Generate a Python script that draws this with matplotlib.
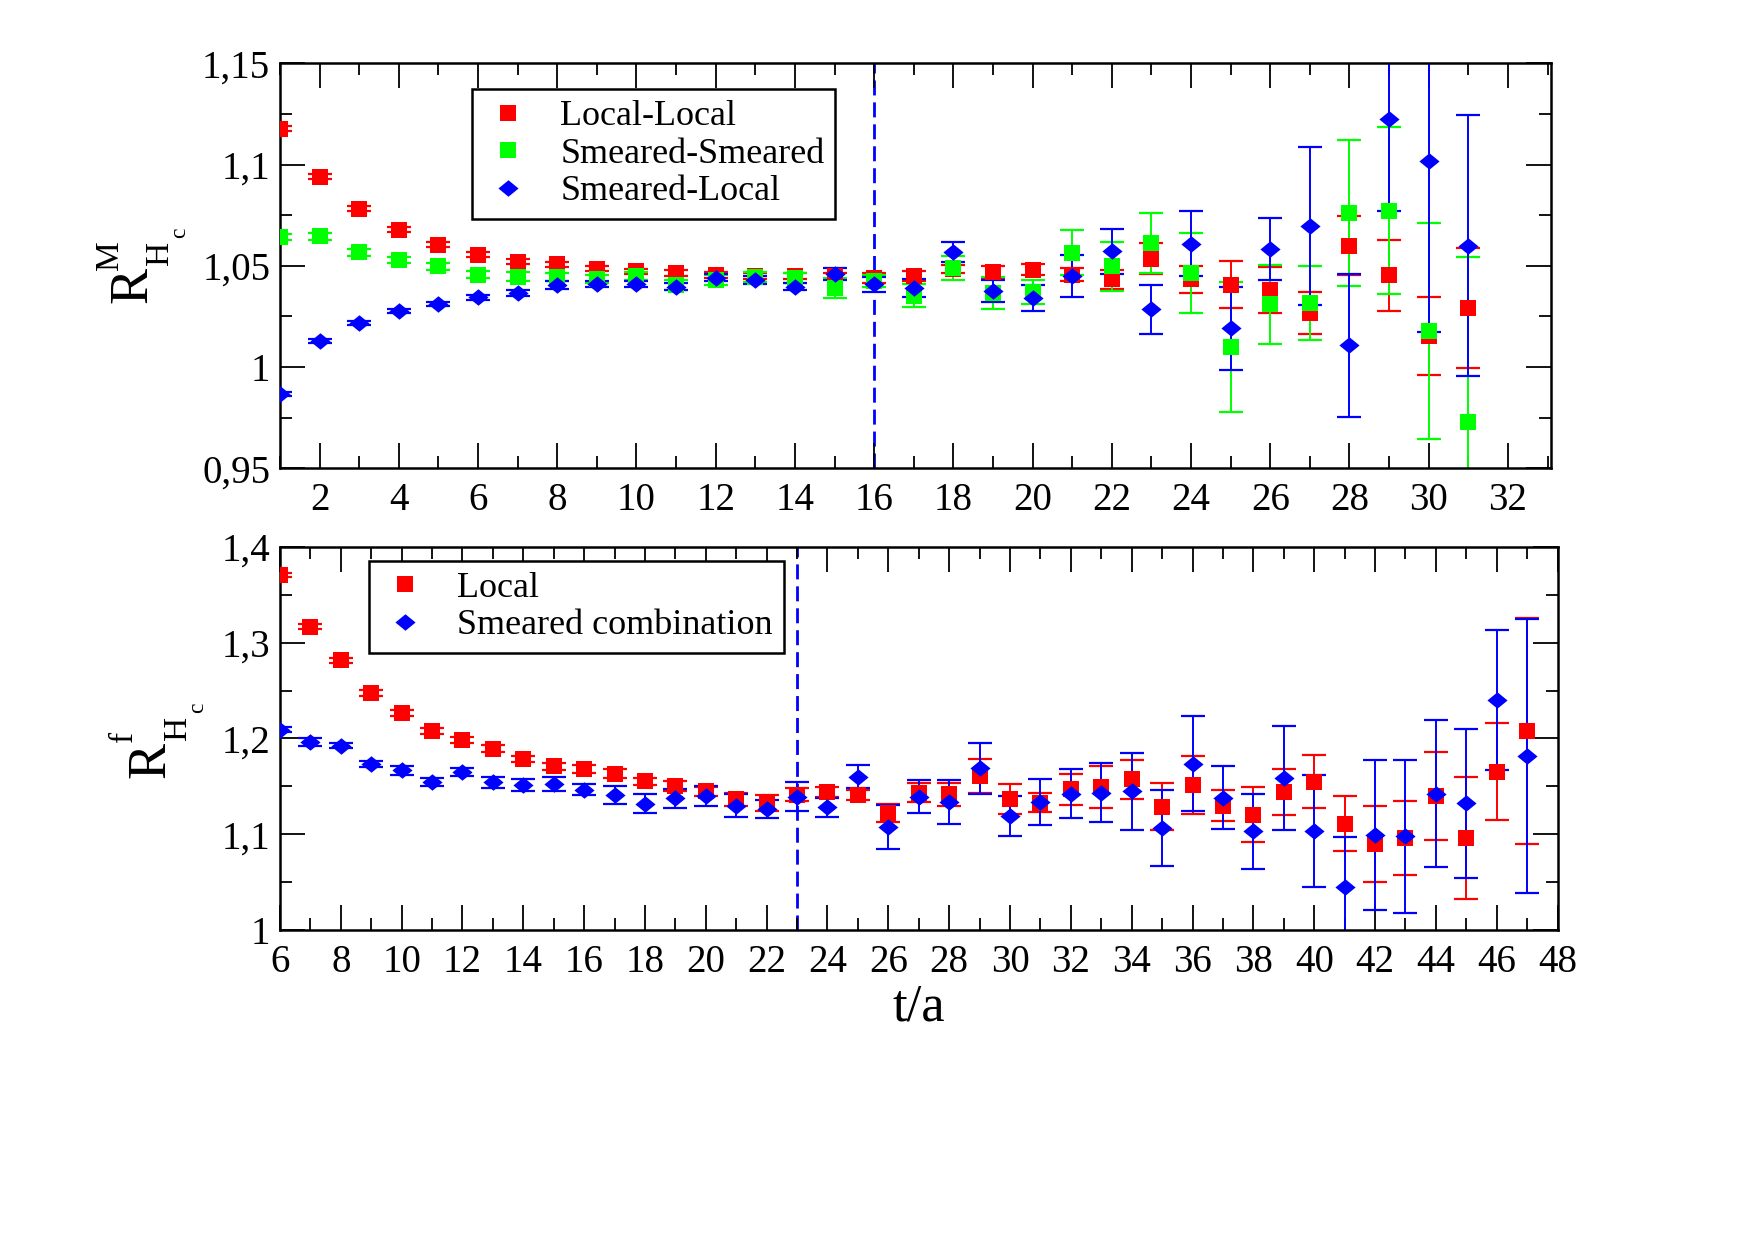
import numpy as np
import matplotlib
matplotlib.use('Agg')
import matplotlib.pyplot as plt
from matplotlib.lines import Line2D
from matplotlib.ticker import MultipleLocator, FuncFormatter

#DATA ----------------------------------------------------------------------
#top panel : R^M ratio, t/a = 1..31
t_top = list(range(1, 32))
ll_val = [1.1177, 1.0940, 1.0782, 1.0678, 1.0605, 1.0554, 1.0520, 1.0508, 1.0485, 1.0474,
          1.0465, 1.0454, 1.0448, 1.0448, 1.0448, 1.0442, 1.0449, 1.0485, 1.0469, 1.0482,
          1.0457, 1.0433, 1.0536, 1.0433, 1.0406, 1.0380, 1.0268, 1.0600, 1.0454, 1.0153, 1.0290]
ll_err = [0.0012, 0.0012, 0.0012, 0.0012, 0.0012, 0.0012, 0.0012, 0.0012, 0.0012, 0.0012,
          0.0013, 0.0015, 0.0015, 0.0015, 0.0015, 0.0025, 0.0025, 0.0020, 0.0029, 0.0025,
          0.0033, 0.0045, 0.0076, 0.0066, 0.0116, 0.0115, 0.0104, 0.0144, 0.0175, 0.0193, 0.0296]
ss_val = [1.0642, 1.0645, 1.0566, 1.0530, 1.0497, 1.0456, 1.0447, 1.0445, 1.0434, 1.0450,
          1.0405, 1.0431, 1.0447, 1.0440, 1.0390, 1.0425, 1.0352, 1.0490, 1.0367, 1.0370,
          1.0564, 1.0498, 1.0613, 1.0465, 1.0099, 1.0310, 1.0317, 1.0762, 1.0773, 1.0178, 0.9730]
ss_err = [0.0015, 0.0015, 0.0015, 0.0015, 0.0018, 0.0018, 0.0022, 0.0022, 0.0020, 0.0020,
          0.0025, 0.0025, 0.0025, 0.0025, 0.0050, 0.0030, 0.0056, 0.0060, 0.0078, 0.0058,
          0.0111, 0.0121, 0.0148, 0.0196, 0.0319, 0.0195, 0.0181, 0.0360, 0.0414, 0.0534, 0.0812]
sl_val = [0.9867, 1.0129, 1.0217, 1.0278, 1.0312, 1.0345, 1.0365, 1.0404, 1.0409, 1.0411,
          1.0398, 1.0442, 1.0431, 1.0398, 1.0459, 1.0408, 1.0391, 1.0567, 1.0375, 1.0342,
          1.0449, 1.0572, 1.0285, 1.0609, 1.0191, 1.0584, 1.0696, 1.0107, 1.1225, 1.1016, 1.0600]
sl_err = [0.0008, 0.0008, 0.0010, 0.0010, 0.0010, 0.0012, 0.0014, 0.0020, 0.0014, 0.0016,
          0.0015, 0.0019, 0.0020, 0.0019, 0.0028, 0.0039, 0.0043, 0.0049, 0.0054, 0.0063,
          0.0104, 0.0111, 0.0120, 0.0160, 0.0203, 0.0154, 0.0391, 0.0351, 0.0452, 0.0844, 0.0644]

#bottom panel : R^f ratio, t/a = 6..47
t_bot = list(range(6, 48))
loc_val = [1.3705, 1.3168, 1.2815, 1.2476, 1.2267, 1.2075, 1.1981, 1.1894, 1.1785, 1.1709,
           1.1684, 1.1632, 1.1551, 1.1506, 1.1447, 1.1366, 1.1325, 1.1412, 1.1440, 1.1409,
           1.1224, 1.1434, 1.1416, 1.1608, 1.1370, 1.1329, 1.1469, 1.1493, 1.1573, 1.1287,
           1.1510, 1.1300, 1.1206, 1.1444, 1.1549, 1.1108, 1.0899, 1.0962, 1.1399, 1.0962,
           1.1654, 1.2073]
loc_err = [0.0020, 0.0026, 0.0030, 0.0030, 0.0030, 0.0030, 0.0030, 0.0035, 0.0035, 0.0040,
           0.0040, 0.0045, 0.0040, 0.0050, 0.0050, 0.0066, 0.0080, 0.0070, 0.0050, 0.0050,
           0.0096, 0.0096, 0.0122, 0.0175, 0.0157, 0.0101, 0.0163, 0.0219, 0.0203, 0.0243,
           0.0302, 0.0161, 0.0287, 0.0240, 0.0276, 0.0288, 0.0393, 0.0385, 0.0458, 0.0638,
           0.0507, 0.1180]
sm_val = [1.2093, 1.1960, 1.1925, 1.1733, 1.1667, 1.1545, 1.1649, 1.1541, 1.1513, 1.1527,
          1.1464, 1.1412, 1.1318, 1.1377, 1.1401, 1.1300, 1.1262, 1.1394, 1.1283, 1.1601,
          1.1077, 1.1392, 1.1339, 1.1689, 1.1189, 1.1336, 1.1423, 1.1434, 1.1451, 1.1066,
          1.1738, 1.1381, 1.1031, 1.1591, 1.1031, 1.0448, 1.0990, 1.0979, 1.1423, 1.1322,
          1.2406, 1.1818]
sm_err = [0.0030, 0.0040, 0.0026, 0.0030, 0.0050, 0.0040, 0.0040, 0.0060, 0.0065, 0.0073,
          0.0058, 0.0094, 0.0101, 0.0100, 0.0101, 0.0122, 0.0096, 0.0154, 0.0100, 0.0122,
          0.0229, 0.0175, 0.0227, 0.0264, 0.0210, 0.0236, 0.0257, 0.0309, 0.0402, 0.0399,
          0.0498, 0.0329, 0.0393, 0.0542, 0.0586, 0.0524, 0.0783, 0.0799, 0.0769, 0.0781,
          0.0731, 0.1434]

#plateau start (dashed lines)
plateau_top = 16
plateau_bot = 23

#STYLE ---------------------------------------------------------------------
plt.rcParams['font.family'] = ['Liberation Serif', 'DejaVu Serif']

RED = '#ff0000'
GREEN = '#00ff00'
BLUE = '#0000ff'
#grace-like diamond, a bit wider than tall
diamond = [(-1, 0), (0, 0.82), (1, 0), (0, -0.82), (-1, 0)]
sq_size = 11
dia_size = 14.5

def comma_fmt(v, pos):
    s = ('%.2f' % v).rstrip('0').rstrip('.')
    return s.replace('.', ',')

def style_axes(ax, xmaj, ymaj, ymin):
    ax.xaxis.set_major_locator(MultipleLocator(xmaj))
    ax.xaxis.set_minor_locator(MultipleLocator(1))
    ax.yaxis.set_major_locator(MultipleLocator(ymaj))
    ax.yaxis.set_minor_locator(MultipleLocator(ymin))
    ax.yaxis.set_major_formatter(FuncFormatter(comma_fmt))
    ax.tick_params(which='both', direction='in', top=True, right=True, width=1.3)
    ax.tick_params(which='major', length=18, labelsize=28)
    ax.tick_params(which='minor', length=8.6)
    ax.tick_params(axis='x', which='major', pad=10)
    ax.tick_params(axis='y', which='major', pad=7)
    for sp in ax.spines.values():
        sp.set_linewidth(1.8)

def draw_set(ax, x, y, e, color, marker, ms, z):
    ax.errorbar(x, y, yerr=e, fmt='none', ecolor=color, elinewidth=1.4,
                capsize=8.8, capthick=1.6, zorder=2)
    ax.plot(x, y, ls='none', marker=marker, color=color, ms=ms, mew=0, zorder=z)

#grace style axis label: big R, raised superscript, subscript H_c hanging below
def grace_ylabel(ax, x, y, sup, sup_off):
    kw = dict(xycoords='axes fraction', textcoords='offset points', rotation=90,
              rotation_mode='anchor', ha='left', va='baseline', annotation_clip=False)
    ax.annotate('R', (x, y), xytext=(0, 0), fontsize=39, **kw)
    ax.annotate(sup, (x, y), xytext=sup_off, fontsize=24, **kw)
    ax.annotate('H', (x, y), xytext=(15.5, 27.5), fontsize=24, **kw)
    ax.annotate('c', (x, y), xytext=(27.5, 47), fontsize=17, **kw)

fig = plt.figure(figsize=(17.55, 12.4), dpi=100)

#TOP PANEL -----------------------------------------------------------------
ax1 = fig.add_axes([0.1595, 0.6223, 0.7241, 0.3266])
ax1.axvline(plateau_top, color=BLUE, lw=2, ls=(0, (5.4, 2.5)), zorder=1)
draw_set(ax1, t_top, ll_val, ll_err, RED, 's', sq_size, 3)
draw_set(ax1, t_top, ss_val, ss_err, GREEN, 's', sq_size, 3.1)
draw_set(ax1, t_top, sl_val, sl_err, BLUE, diamond, dia_size, 3.2)
ax1.set_xlim(1, 33.08)
ax1.set_ylim(0.95, 1.15)
style_axes(ax1, 2, 0.05, 0.025)
grace_ylabel(ax1, -0.1047, 0.408, 'M', (-21, 24))

h1 = [Line2D([], [], ls='none', marker='s', color=RED, ms=sq_size, mew=0),
      Line2D([], [], ls='none', marker='s', color=GREEN, ms=sq_size, mew=0),
      Line2D([], [], ls='none', marker=diamond, color=BLUE, ms=dia_size, mew=0)]
leg1 = ax1.legend(h1, ['Local-Local', 'Smeared-Smeared', 'Smeared-Local'],
                  loc='upper left', bbox_to_anchor=(0.151, 0.9365), borderaxespad=0,
                  fontsize=26, fancybox=False, framealpha=1, edgecolor='black',
                  borderpad=0.3, handlelength=1.4, handletextpad=0.75, labelspacing=0.12)
leg1.get_frame().set_linewidth(1.8)

#BOTTOM PANEL --------------------------------------------------------------
ax2 = fig.add_axes([0.1595, 0.25, 0.728, 0.3089])
ax2.axvline(plateau_bot, color=BLUE, lw=2, ls=(0, (5.4, 2.5)), zorder=1)
draw_set(ax2, t_bot, loc_val, loc_err, RED, 's', sq_size, 3)
draw_set(ax2, t_bot, sm_val, sm_err, BLUE, diamond, dia_size, 3.2)
ax2.set_xlim(6, 48)
ax2.set_ylim(1.0, 1.4)
style_axes(ax2, 2, 0.1, 0.05)
ax2.set_xlabel('t/a', fontsize=38, labelpad=2)
grace_ylabel(ax2, -0.09, 0.397, 'f', (-23.5, 26))

h2 = [Line2D([], [], ls='none', marker='s', color=RED, ms=sq_size, mew=0),
      Line2D([], [], ls='none', marker=diamond, color=BLUE, ms=dia_size, mew=0)]
leg2 = ax2.legend(h2, ['Local', 'Smeared combination'],
                  loc='upper left', bbox_to_anchor=(0.0697, 0.964), borderaxespad=0,
                  fontsize=26, fancybox=False, framealpha=1, edgecolor='black',
                  borderpad=0.3, handlelength=1.4, handletextpad=0.75, labelspacing=0.12)
leg2.get_frame().set_linewidth(1.8)

fig.savefig('out.png', dpi=100)
